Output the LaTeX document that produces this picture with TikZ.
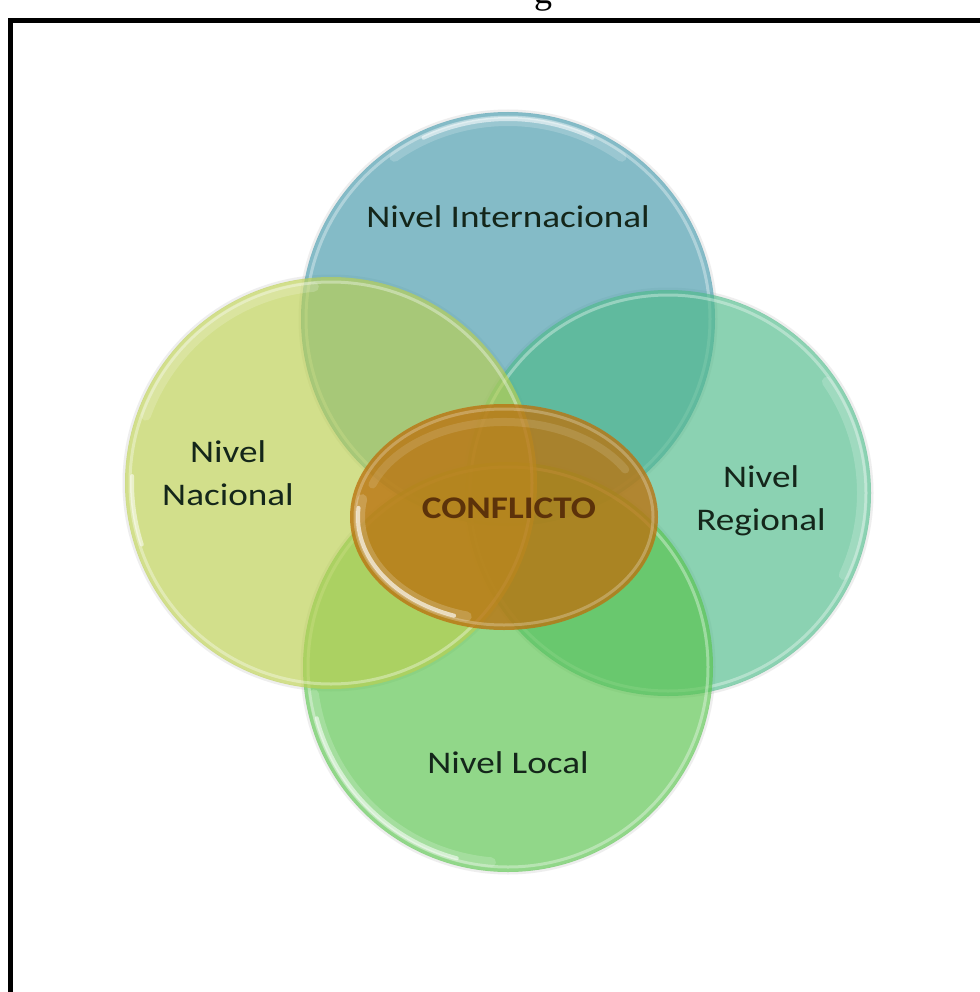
\documentclass[tikz,border=0pt]{standalone}
\usepackage{fontspec}
\usepackage{graphicx}
\setmainfont{Carlito}
\newfontfamily\titleserif{Liberation Serif}
\newcommand{\widetext}[1]{\scalebox{1.18}[1]{#1}}
\definecolor{cTop}{RGB}{67,152,170}
\definecolor{cRight}{RGB}{78,186,137}
\definecolor{cLeft}{RGB}{186,207,78}
\definecolor{cBot}{RGB}{87,195,75}
\definecolor{cMid}{RGB}{187,116,17}
\definecolor{txt}{RGB}{20,38,26}
\definecolor{txtc}{RGB}{92,50,10}
\begin{document}
\begin{tikzpicture}[x=1pt,y=-1pt,
  disc/.style={fill opacity=0.65},
  core/.style={fill opacity=0.8},
  rim/.style={draw=white, line width=3pt, draw opacity=0.35},
  glint/.style={draw=white, line width=4pt, draw opacity=0.55, line cap=round},
  glow/.style={draw=white, line width=10pt, draw opacity=0.18, line cap=round},
  halo/.style={draw=black!30, line width=3pt, draw opacity=0.22},
  lbl/.style={text=txt, font=\fontsize{31.5}{43}\selectfont, inner sep=0pt, align=center, anchor=base},
]
\useasboundingbox (0,0) rectangle (979,992);
\fill[white] (0,0) rectangle (979,992);
% page frame and cut-off title letter
\draw[line width=5pt] (10,1100) -- (10,21) -- (1100,21);
\node[font=\titleserif\fontsize{36}{40}\selectfont, anchor=base, inner sep=0pt] (title) at (543,4) {g};
% soft halos
\draw[halo] (508,319) circle[radius=208];
\draw[halo] (668,493) circle[radius=204];
\draw[halo] (508,667) circle[radius=206];
\draw[halo] (331,483) circle[radius=207];
% discs
\fill[cTop, disc] (508,319) circle[radius=207];
\draw[rim] (508,319) circle[radius=202];
\fill[cRight, disc] (668,493) circle[radius=203];
\draw[rim] (668,493) circle[radius=198];
\fill[cBot, disc] (508,667) circle[radius=205];
\draw[rim] (508,667) circle[radius=200];
\fill[cLeft, disc] (331,483) circle[radius=206];
\draw[rim] (331,483) circle[radius=201];
% glints
\draw[glow] ([shift={(235:198)}]508,319) arc[start angle=235, end angle=305, radius=198];
\draw[glint] ([shift={(245:200)}]508,319) arc[start angle=245, end angle=295, radius=200];
\draw[glow] ([shift={(325:194)}]668,493) arc[start angle=325, end angle=385, radius=194];
\draw[glow] ([shift={(95:196)}]508,667) arc[start angle=95, end angle=172, radius=196];
\draw[glint] ([shift={(105:198)}]508,667) arc[start angle=105, end angle=165, radius=198];
\draw[glint] ([shift={(162:199)}]331,483) arc[start angle=162, end angle=182, radius=199];
\draw[glow] ([shift={(200:197)}]331,483) arc[start angle=200, end angle=265, radius=197];
% centre
\fill[cMid, core] (504,517) ellipse[x radius=154, y radius=113];
\draw[draw=white, line width=3pt, draw opacity=0.25] (504,517) ellipse[x radius=149, y radius=108];
\draw[glow] ([shift={(105:144 and 103)}]504,517) arc[start angle=105, end angle=190, x radius=144, y radius=103];
\draw[glint, draw opacity=0.65] ([shift={(110:146 and 105)}]504,517) arc[start angle=110, end angle=185, x radius=146, y radius=105];
\draw[draw=white, line width=8pt, draw opacity=0.12, line cap=round] ([shift={(200:140 and 95)}]504,517) arc[start angle=200, end angle=330, x radius=140, y radius=95];
% labels
\node[lbl] (intl) at (508,228) {\widetext{Nivel Internacional}};
\node[lbl] (nac) at (228,505) {\widetext{Nivel}\\\widetext{Nacional}};
\node[lbl] (reg) at (761,530) {\widetext{Nivel}\\\widetext{Regional}};
\node[lbl] (loc) at (508,773) {\widetext{Nivel Local}};
\node[lbl, text=txtc, font=\bfseries\fontsize{31.5}{43}\selectfont] (conf) at (509,518) {\widetext{CONFLICTO}};
\end{tikzpicture}
\end{document}
